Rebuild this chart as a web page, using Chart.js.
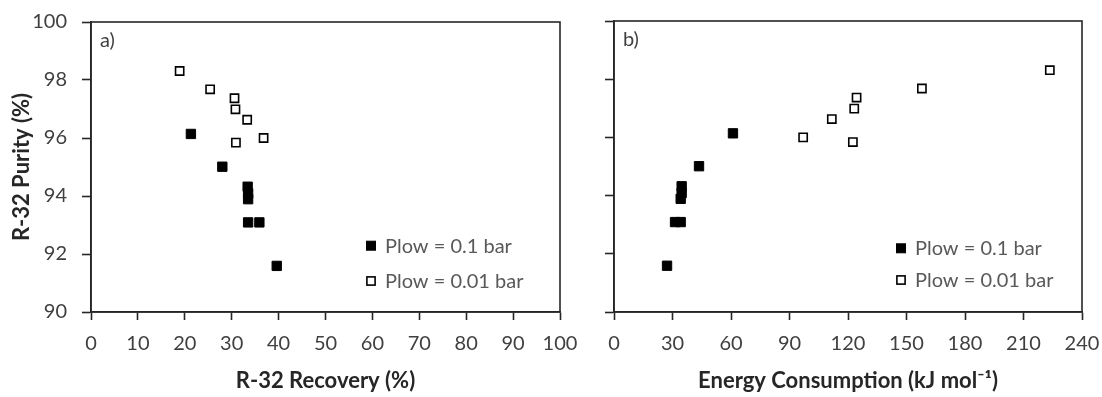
<!DOCTYPE html>
<html><head><meta charset="utf-8">
<script src="https://cdn.jsdelivr.net/npm/chart.js@4.4.0/dist/chart.umd.min.js"></script>
<style>
html,body{margin:0;padding:0;background:#fff;}
#wrap{position:relative;width:1102px;height:397px;background:#fff;}
canvas{position:absolute;top:0;}
</style></head><body>
<div id="wrap">
<canvas id="c1" width="580" height="397" style="left:0px"></canvas>
<canvas id="c2" width="522" height="397" style="left:580px"></canvas>
</div>
<script>
// ---------- data ----------
const seriesLabels = ['Plow = 0.1 bar', 'Plow = 0.01 bar'];
// Plow = 0.1 bar (filled squares)
const purity01   = [96.14, 95.01, 94.32, 94.09, 93.89, 93.09, 93.09, 91.59];
const recovery01 = [21.3, 28.0, 33.4, 33.5, 33.5, 33.5, 35.9, 39.6];
const energy01   = [61.0, 43.6, 34.7, 34.7, 34.2, 31.3, 34.2, 27.2];
// Plow = 0.01 bar (open squares)
const purity001   = [98.31, 97.68, 97.37, 96.99, 96.63, 96.00, 95.84];
const recovery001 = [18.9, 25.4, 30.6, 30.8, 33.3, 36.8, 30.9];
const energy001   = [223.5, 157.9, 124.4, 123.2, 111.7, 97.0, 122.5];
// axes
const purityRange   = [90, 100, 2];
const recoveryRange = [0, 100, 10];
const energyRange   = [0, 240, 30];
const purityTitle   = 'R-32 Purity (%)';
const recoveryTitle = 'R-32 Recovery (%)';
const energyTitle   = 'Energy Consumption (kJ mol\u207B\u00B9)';
const panelLabels   = ['a)', 'b)'];

// ---------- styles ----------
const FONT = 'Lato';
const AXIS = '#262626';
const TICK_TXT = '#404040';
const LEG_TXT = '#595959';
Chart.defaults.font.family = FONT;

function pts(xs, ys) { return xs.map((x, i) => ({ x: x, y: ys[i] })); }

function datasets(xs01, xs001) {
  return [
    { label: seriesLabels[0], data: pts(xs01, purity01), pointStyle: 'rect',
      pointRadius: 6.6, pointHoverRadius: 6.6, backgroundColor: '#000', borderColor: '#000', borderWidth: 1, showLine: false },
    { label: seriesLabels[1], data: pts(xs001, purity001), pointStyle: 'rect',
      pointRadius: 5.8, pointHoverRadius: 5.8, backgroundColor: '#fff', borderColor: '#000', borderWidth: 1.6, showLine: false }
  ];
}

const framePlugin = {
  id: 'frame',
  afterDatasetsDraw(chart, args, o) {
    const { ctx, chartArea: a } = chart;
    ctx.save();
    ctx.strokeStyle = AXIS; ctx.lineWidth = 1.6;
    ctx.strokeRect(a.left, a.top, a.right - a.left, a.bottom - a.top);
    ctx.fillStyle = TICK_TXT; ctx.font = '20px ' + FONT;
    ctx.textAlign = 'left'; ctx.textBaseline = 'alphabetic';
    ctx.fillText(o.panel, a.left + 9, a.top + 25);
    chart.data.datasets.forEach((ds, i) => {
      const cx = a.right - o.legRight, cy = a.bottom - o.legBottom + i * o.legGap;
      ctx.fillStyle = ds.backgroundColor; ctx.strokeStyle = ds.borderColor;
      ctx.lineWidth = ds.borderWidth;
      const s = i === 0 ? 9 : 8.2;
      ctx.fillRect(cx - s / 2, cy - s / 2, s, s);
      ctx.strokeRect(cx - s / 2, cy - s / 2, s, s);
      ctx.fillStyle = LEG_TXT; ctx.font = '20px ' + FONT;
      ctx.fillText(ds.label, cx + 14, cy + 7);
    });
    ctx.restore();
  }
};

function zeroPad(s) { s.paddingTop = 0; s.paddingBottom = 0; s.paddingLeft = 0; s.paddingRight = 0; }

function xScale(range, title) {
  return {
    type: 'linear', position: 'bottom', min: range[0], max: range[1],
    afterFit(s) { s.height = 85; zeroPad(s); },
    ticks: { stepSize: range[2], color: TICK_TXT, font: { size: 20 }, padding: 12, maxRotation: 0, autoSkip: false },
    grid: { drawOnChartArea: false, drawTicks: true, tickLength: 8, tickColor: AXIS, tickWidth: 1.6 },
    border: { display: true, color: AXIS, width: 1.6 },
    title: { display: true, text: title, color: '#262626', font: { size: 22, weight: 'bold' }, padding: { top: 0, bottom: 3 } }
  };
}
function yScale(width, showLabels) {
  return {
    type: 'linear', position: 'left', min: purityRange[0], max: purityRange[1],
    afterFit(s) { s.width = width; zeroPad(s); },
    ticks: { stepSize: purityRange[2], color: TICK_TXT, font: { size: 20 }, padding: 15, display: showLabels },
    grid: { drawOnChartArea: false, drawTicks: true, tickLength: 9, tickColor: AXIS, tickWidth: 1.6 },
    border: { display: true, color: AXIS, width: 1.6 },
    title: { display: showLabels, text: purityTitle, color: '#262626', font: { size: 22, weight: 'bold' }, padding: { top: 9, bottom: 0 } }
  };
}

// target plot area inside each canvas: [left, top, right, bottom]
function makeChart(id, xs01, xs001, range, title, yWidth, showY, plug, target) {
  const cw = document.getElementById(id).width;
  const ch = new Chart(document.getElementById(id), {
    type: 'scatter',
    data: { datasets: datasets(xs01, xs001) },
    options: {
      responsive: false, animation: false, devicePixelRatio: 1,
      layout: { padding: { top: target[1], right: cw - target[2], left: 0, bottom: 0 } },
      plugins: { legend: { display: false }, tooltip: { enabled: false }, frame: plug },
      scales: { x: xScale(range, title), y: yScale(yWidth, showY) }
    },
    plugins: [framePlugin]
  });
  return ch;
}

makeChart('c1', recovery01, recovery001, recoveryRange, recoveryTitle, 91, true,
  { panel: panelLabels[0], legRight: 189, legBottom: 66.3, legGap: 35.3 }, [91, 22, 560, 312]);
makeChart('c2', energy01, energy001, energyRange, energyTitle, 34, false,
  { panel: panelLabels[1], legRight: 181, legBottom: 63.7, legGap: 31.7 }, [34, 21, 502, 312]);
</script>
</body></html>
